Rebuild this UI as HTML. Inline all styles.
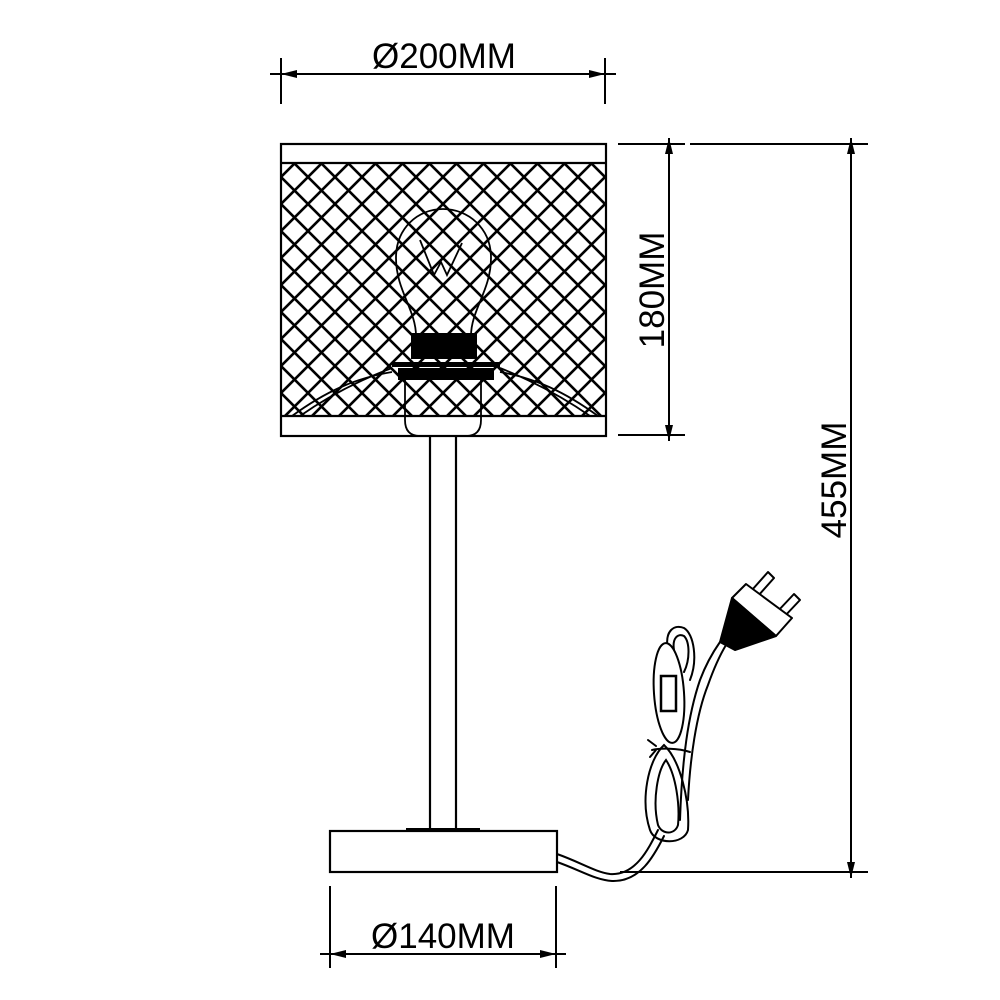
<!DOCTYPE html>
<html><head><style>
html,body{margin:0;padding:0;background:#fff;}
svg{display:block;}
text{font-family:"Liberation Sans",Arial,sans-serif;fill:#000;}
</style></head><body>
<svg width="1000" height="1000" viewBox="0 0 1000 1000" xmlns="http://www.w3.org/2000/svg">
<defs>
<pattern id="mesh" x="281" y="150" width="27" height="27" patternUnits="userSpaceOnUse">
<path d="M0,0 L27,27 M27,0 L0,27 M-3,24 L3,30 M24,-3 L30,3 M-3,3 L3,-3 M24,30 L30,24" stroke="#000" stroke-width="2.6"/>
</pattern>
<marker id="ar" markerWidth="16" markerHeight="8" refX="16" refY="4" orient="auto" markerUnits="userSpaceOnUse">
<path d="M0,0 L16,4 L0,8 Z" fill="#000"/>
</marker>
</defs>
<g stroke="#000" fill="none" stroke-width="2">
<line x1="281" y1="58" x2="281" y2="104"/>
<line x1="605" y1="58" x2="605" y2="104"/>
<line x1="270" y1="74" x2="281" y2="74"/>
<line x1="400" y1="74" x2="281" y2="74" marker-end="url(#ar)"/>
<line x1="400" y1="74" x2="605" y2="74" marker-end="url(#ar)"/>
<line x1="605" y1="74" x2="616" y2="74"/>
<line x1="618" y1="144" x2="685" y2="144"/>
<line x1="618" y1="435" x2="685" y2="435"/>
<line x1="669" y1="290" x2="669" y2="138" marker-end="url(#ar)"/>
<line x1="669" y1="290" x2="669" y2="441" marker-end="url(#ar)"/>
<line x1="690" y1="144" x2="868" y2="144"/>
<line x1="620" y1="872" x2="868" y2="872"/>
<line x1="851" y1="500" x2="851" y2="138" marker-end="url(#ar)"/>
<line x1="851" y1="500" x2="851" y2="878" marker-end="url(#ar)"/>
<line x1="330" y1="886" x2="330" y2="968"/>
<line x1="556" y1="886" x2="556" y2="968"/>
<line x1="320" y1="954" x2="330" y2="954"/>
<line x1="556" y1="954" x2="566" y2="954"/>
<line x1="443" y1="954" x2="330" y2="954" marker-end="url(#ar)"/>
<line x1="443" y1="954" x2="556" y2="954" marker-end="url(#ar)"/>
</g>
<rect x="281" y="163" width="325" height="253" fill="url(#mesh)"/>
<g stroke="#000" fill="none" stroke-width="2.2">
<rect x="281" y="144" width="325" height="292"/>
<line x1="281" y1="163" x2="606" y2="163"/>
<line x1="281" y1="416" x2="606" y2="416"/>
</g>
<g stroke="#000" fill="none" stroke-width="1.8">
<path d="M416,336 C416,310 396,290 396,258 C396,228 418,209 443,209 C468,209 491,228 491,258 C491,290 471,310 471,336"/>
<path d="M420,240 L434,275 L441,262 L447,275 L462,243"/>
<path d="M300,416 C330,395 360,380 392,368 M292,416 C325,392 355,378 392,372"/>
<path d="M590,416 C560,395 530,380 500,368 M598,416 C565,392 535,378 500,372"/>
<path d="M405,376 L405,420 Q405,436 420,436 L466,436 Q481,436 481,420 L481,376"/>
</g>
<rect x="411" y="333" width="66" height="26" fill="#000"/>
<rect x="392" y="362" width="108" height="5" fill="#000"/>
<rect x="398" y="368" width="96" height="12" fill="#000"/>
<g stroke="#000" fill="none" stroke-width="2.2">
<line x1="430" y1="436" x2="430" y2="829"/>
<line x1="456" y1="436" x2="456" y2="829"/>
<rect x="330" y="831" width="227" height="41"/>
</g>
<rect x="406" y="828" width="74" height="4" fill="#000"/>
<g stroke="#000" fill="none" stroke-width="2" stroke-linecap="round">
<path d="M557,854 C580,862 595,872 610,874 C635,876 648,850 658,830"/>
<path d="M557,862 C580,870 595,880 612,881 C640,882 654,856 664,836"/>
<path d="M650,830 C640,800 648,760 664,745 C680,760 690,800 688,830 C684,845 655,845 650,830 Z"/>
<path d="M658,825 C652,800 658,770 666,760 C676,775 680,805 678,825 C675,835 662,835 658,825 Z"/>
<path d="M688,800 C690,760 696,715 708,685 C714,668 720,655 726,645"/>
<path d="M680,820 C682,760 688,715 700,680 C706,664 713,652 720,642"/>
<path d="M668,650 C664,630 675,624 684,628 C694,634 698,660 690,680"/>
<path d="M674,650 C672,638 678,633 684,636 C690,642 690,660 684,672"/>
<ellipse cx="669" cy="693" rx="15" ry="50" transform="rotate(-4 669 693)" fill="#fff"/>
<rect x="661" y="676" width="15" height="35" stroke-width="2.5"/>
<path d="M652,750 C660,748 678,748 690,752 M656,746 L648,740 M656,750 L650,757"/>
</g>
<g stroke="#000" stroke-width="2" fill="#fff" stroke-linejoin="round">
<path d="M752,590 L768,572 L774,578 L758,596 Z"/>
<path d="M777,612 L794,594 L800,600 L783,618 Z"/>
<path d="M732,598 L746,584 L792,618 L776,636 Z"/>
<path d="M732,598 L776,636 L735,650 L720,642 Z" fill="#000"/>
</g>
<text x="444" y="68" font-size="35" text-anchor="middle">Ø200MM</text>
<text x="443" y="948" font-size="35" text-anchor="middle">Ø140MM</text>
<text transform="translate(664,290) rotate(-90)" font-size="35" text-anchor="middle">180MM</text>
<text transform="translate(846,480) rotate(-90)" font-size="35" text-anchor="middle">455MM</text>
</svg>
</body></html>
